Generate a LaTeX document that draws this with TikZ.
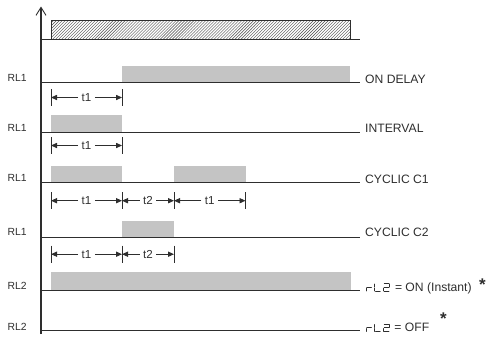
\documentclass[tikz,border=0pt]{standalone}
\usepackage{fontspec}
\setmainfont{Liberation Sans}
\usetikzlibrary{arrows.meta,patterns}
\definecolor{ink}{HTML}{2E2E2E}
\definecolor{bar}{HTML}{C4C4C4}
\tikzset{
  sig/.style={draw=ink, line width=1bp},
  onbar/.style={fill=bar, draw=none},
  rl/.style={font=\fontsize{10.4}{11}\selectfont, text=ink, anchor=base west, inner sep=0},
  mode/.style={font=\fontsize{12.2}{13}\selectfont, text=ink, anchor=base west, inner sep=0},
  dimlbl/.style={font=\fontsize{11.6}{12}\selectfont, text=ink, inner xsep=3.3bp, inner ysep=0},
  dimarr/.style={draw=ink, line width=0.9bp, -{Triangle[length=6bp,width=5.2bp]}},
  tickmark/.style={draw=ink, line width=0.9bp},
  segline/.style={draw=ink, line width=0.9bp, line cap=round},
  star/.style={font=\fontsize{17}{17}\selectfont\bfseries, text=ink, inner sep=0, anchor=base},
  sevenR/.pic={\draw[segline] (0.6,-3.8) -- (5.2,-3.8); \draw[segline] (0,-3.2) -- (0,-0.4);},
  sevenL/.pic={\draw[segline] (0,-7.2) -- (0,-4.4); \draw[segline] (0,-3.2) -- (0,-0.4); \draw[segline] (0.6,0) -- (5.2,0);},
  sevenTwo/.pic={\draw[segline] (0.6,-7.6) -- (5.2,-7.6); \draw[segline] (5.8,-7.2) -- (5.8,-4.4);
     \draw[segline] (0.6,-3.8) -- (5.2,-3.8); \draw[segline] (0,-3.2) -- (0,-0.4); \draw[segline] (0.6,0) -- (5.2,0);},
}
\begin{document}
\begin{tikzpicture}[x=1bp,y=-1bp]
\useasboundingbox (0,0) rectangle (488,340);

% input (hatched)
\draw[draw=ink, line width=0.9bp, pattern=north east lines, pattern color=ink!85] (51,39) -- (51,20) -- (350.7,20) -- (350.7,39);
\draw[sig] (41,39) -- (359.5,39);

% ON DELAY
\fill[onbar] (122,66) rectangle (350.3,82.7);
\draw[sig] (41,82.7) -- (359.5,82.7);
\node[rl] (rlA) at (7.5,81.2) {RL1};
\node[mode] (mA) at (365,83.3) {ON DELAY};

\coordinate (d1a) at (51,97.5); \coordinate (d1b) at (122,97.5);
\node[dimlbl] (d1t) at (86.5,97.5) {t1};
\draw[dimarr] (d1t.west) -- (d1a); \draw[dimarr] (d1t.east) -- (d1b);
\draw[tickmark] ([yshift=8.7bp]d1a) -- ([yshift=-8.7bp]d1a);
\draw[tickmark] ([yshift=8.7bp]d1b) -- ([yshift=-8.7bp]d1b);

% INTERVAL
\fill[onbar] (51,115) rectangle (122,132.7);
\draw[sig] (41,132.7) -- (359.5,132.7);
\node[rl] (rlB) at (7.5,131.5) {RL1};
\node[mode] (mB) at (365,132.6) {INTERVAL};

\coordinate (d2a) at (51,145.5); \coordinate (d2b) at (122,145.5);
\node[dimlbl] (d2t) at (86.5,145.5) {t1};
\draw[dimarr] (d2t.west) -- (d2a); \draw[dimarr] (d2t.east) -- (d2b);
\draw[tickmark] ([yshift=8.7bp]d2a) -- ([yshift=-8.7bp]d2a);
\draw[tickmark] ([yshift=8.7bp]d2b) -- ([yshift=-8.7bp]d2b);

% CYCLIC C1
\fill[onbar] (51,165.7) rectangle (122,182);
\fill[onbar] (174,165.7) rectangle (245.5,182);
\draw[sig] (41,182) -- (359.5,182);
\node[rl] (rlC) at (7.5,181.3) {RL1};
\node[mode] (mC) at (365,183.5) {CYCLIC C1};

\coordinate (d3a) at (51,200.7); \coordinate (d3b) at (122,200.7);
\coordinate (d3c) at (174,200.7); \coordinate (d3d) at (245.5,200.7);
\node[dimlbl] (d3t) at (86.5,200.7) {t1};
\node[dimlbl] (d3u) at (148,200.7) {t2};
\node[dimlbl] (d3v) at (209.75,200.7) {t1};
\draw[dimarr] (d3t.west) -- (d3a); \draw[dimarr] (d3t.east) -- (d3b);
\draw[dimarr] (d3u.west) -- (d3b); \draw[dimarr] (d3u.east) -- (d3c);
\draw[dimarr] (d3v.west) -- (d3c); \draw[dimarr] (d3v.east) -- (d3d);
\foreach \c in {d3a,d3b,d3c,d3d}
  \draw[tickmark] ([yshift=8.7bp]\c) -- ([yshift=-8.7bp]\c);

% CYCLIC C2
\fill[onbar] (122,220.7) rectangle (174,237);
\draw[sig] (41,237) -- (359.5,237);
\node[rl] (rlD) at (7.5,235.5) {RL1};
\node[mode] (mD) at (365,236.7) {CYCLIC C2};

\coordinate (d4a) at (51,254.2); \coordinate (d4b) at (122,254.2); \coordinate (d4c) at (174,254.2);
\node[dimlbl] (d4t) at (86.5,254.2) {t1};
\node[dimlbl] (d4u) at (148,254.2) {t2};
\draw[dimarr] (d4t.west) -- (d4a); \draw[dimarr] (d4t.east) -- (d4b);
\draw[dimarr] (d4u.west) -- (d4b); \draw[dimarr] (d4u.east) -- (d4c);
\foreach \c in {d4a,d4b,d4c}
  \draw[tickmark] ([yshift=8.7bp]\c) -- ([yshift=-8.7bp]\c);

% RL2 ON
\fill[onbar] (51,272) rectangle (350.5,290);
\draw[sig] (41,290) -- (359.5,290);
\node[rl] (rlE) at (7.5,289.3) {RL2};
\begin{scope}[shift={(366.3,291.3)},xslant=0.3]
  \pic at (0,0) {sevenR}; \pic at (8.6,0) {sevenL}; \pic at (17.4,0) {sevenTwo};
\end{scope}
\node[mode] (mE) at (394.8,291.3) {= ON (Instant)};
\node[star] (sE) at (482.5,290) {*};

% RL2 OFF
\draw[sig] (41,330.7) -- (359.5,330.7);
\node[rl] (rlF) at (7.5,330) {RL2};
\begin{scope}[shift={(366.3,331.7)},xslant=0.3]
  \pic at (0,0) {sevenR}; \pic at (8.6,0) {sevenL}; \pic at (17.4,0) {sevenTwo};
\end{scope}
\node[mode] (mF) at (394.2,331.7) {= OFF};
\node[star] (sF) at (443.5,324.5) {*};

% time axis
\draw[draw=ink, line width=1.5bp, -{Straight Barb[length=8bp,width=10bp,line width=0.9bp]}] (41,334) -- (41,6.5);
\end{tikzpicture}
\end{document}
